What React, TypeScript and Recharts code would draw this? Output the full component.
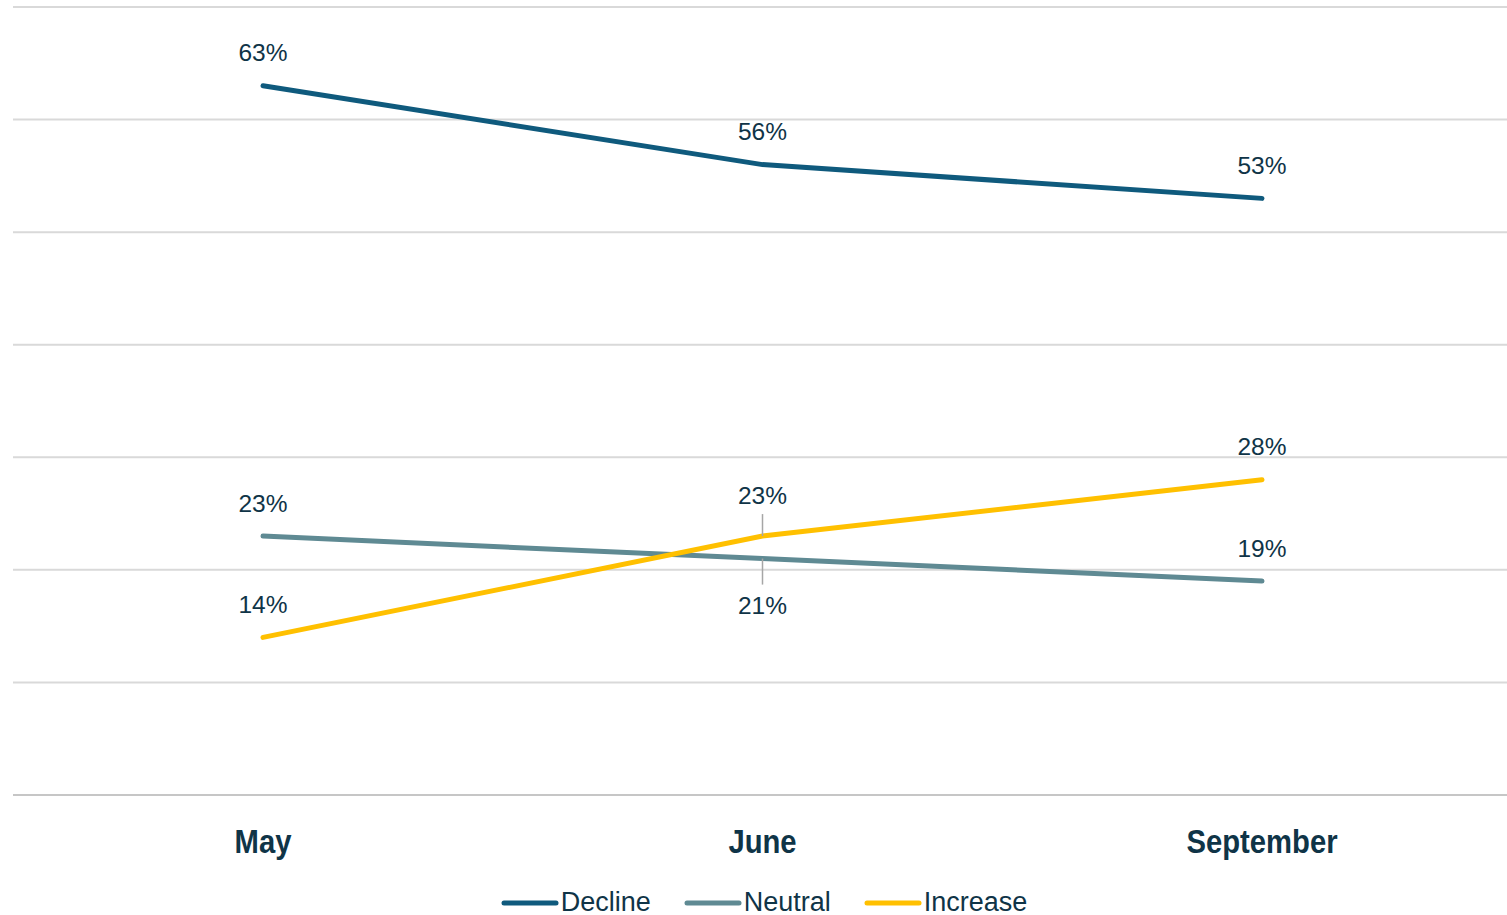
import { LineChart, Line, XAxis, YAxis, CartesianGrid, Legend } from "recharts"

const months = ["May", "June", "September"]
const decline = [63, 56, 53]
const neutral = [23, 21, 19]
const increase = [14, 23, 28]
const yTicks = [0, 10, 20, 30, 40, 50, 60, 70]

const data = months.map((m, i) => ({
  month: m,
  Decline: decline[i],
  Neutral: neutral[i],
  Increase: increase[i],
}))

const textColor = "#0f3447"
const labelFont = "'Liberation Sans', Arial, sans-serif"

// which labels sit below the point / need a leader line (June crossing)
const below: Record<string, number[]> = { Neutral: [1] }
const leader: Record<string, number[]> = { Increase: [1], Neutral: [1] }

function makeLabel(name: string) {
  return (props: any) => {
    const { x, y, value, index } = props
    const isBelow = (below[name] || []).includes(index)
    const hasLeader = (leader[name] || []).includes(index)
    if (isBelow) {
      return (
        <g>
          <line x1={x} x2={x} y1={y} y2={y + 26} stroke="#a6a6a6" strokeWidth={1.5} />
          <text x={x} y={y + 47} textAnchor="middle" dominantBaseline="central" fontSize={24.5} fill={textColor} fontFamily={labelFont}>
            {value}%
          </text>
        </g>
      )
    }
    const off = hasLeader ? 41 : 33
    return (
      <g>
        {hasLeader && <line x1={x} x2={x} y1={y - 22} y2={y} stroke="#a6a6a6" strokeWidth={1.5} />}
        <text x={x} y={y - off} textAnchor="middle" dominantBaseline="central" fontSize={24.5} fill={textColor} fontFamily={labelFont}>
          {value}%
        </text>
      </g>
    )
  }
}

// condensed look: squeeze a bold sans horizontally
const MonthTick = (props: any) => {
  const { x, y, payload } = props
  return (
    <g transform={`translate(${x},${y + 38}) scale(0.86,1)`}>
      <text x={0} y={0} textAnchor="middle" dominantBaseline="central" fontSize={34} fontWeight="bold"
        fill={textColor} fontFamily={labelFont}>
        {payload.value}
      </text>
    </g>
  )
}

const series = [
  { key: "Decline", color: "#0f5a7d" },
  { key: "Neutral", color: "#5f8a93" },
  { key: "Increase", color: "#ffc000" },
]

const LegendContent = () => (
  <div style={{ display: "flex", justifyContent: "center", alignItems: "center", gap: 33, paddingLeft: 8, marginTop: 14 }}>
    {series.map((s) => (
      <div key={s.key} style={{ display: "flex", alignItems: "center" }}>
        <svg width={58} height={8}>
          <line x1={3} x2={55} y1={4} y2={4} stroke={s.color} strokeWidth={5} strokeLinecap="round" />
        </svg>
        <span style={{ fontFamily: labelFont, fontSize: 27, color: textColor, marginLeft: 2, lineHeight: 1 }}>{s.key}</span>
      </div>
    ))}
  </div>
)

export default function App() {
  return (
    <div style={{ position: "absolute", left: 0, top: 0, background: "#fff" }}>
      <LineChart width={1507} height={915} data={data} margin={{ top: 7, right: 0, left: 13, bottom: 0 }}>
        <CartesianGrid vertical={false} stroke="#d9d9d9" strokeWidth={2} />
        <XAxis
          dataKey="month"
          padding={{ left: 250, right: 245 }}
          axisLine={{ stroke: "#c6c6c6", strokeWidth: 2 }}
          tickLine={false}
          height={80}
          tick={<MonthTick />}
          interval={0}
        />
        <YAxis hide domain={[0, 70]} ticks={yTicks} />
        <Legend verticalAlign="bottom" height={40} content={<LegendContent />} />
        {series.map((s) => (
          <Line
            key={s.key}
            dataKey={s.key}
            stroke={s.color}
            strokeWidth={5}
            strokeLinecap="round"
            dot={false}
            activeDot={false}
            isAnimationActive={false}
            label={makeLabel(s.key)}
          />
        ))}
      </LineChart>
    </div>
  )
}
